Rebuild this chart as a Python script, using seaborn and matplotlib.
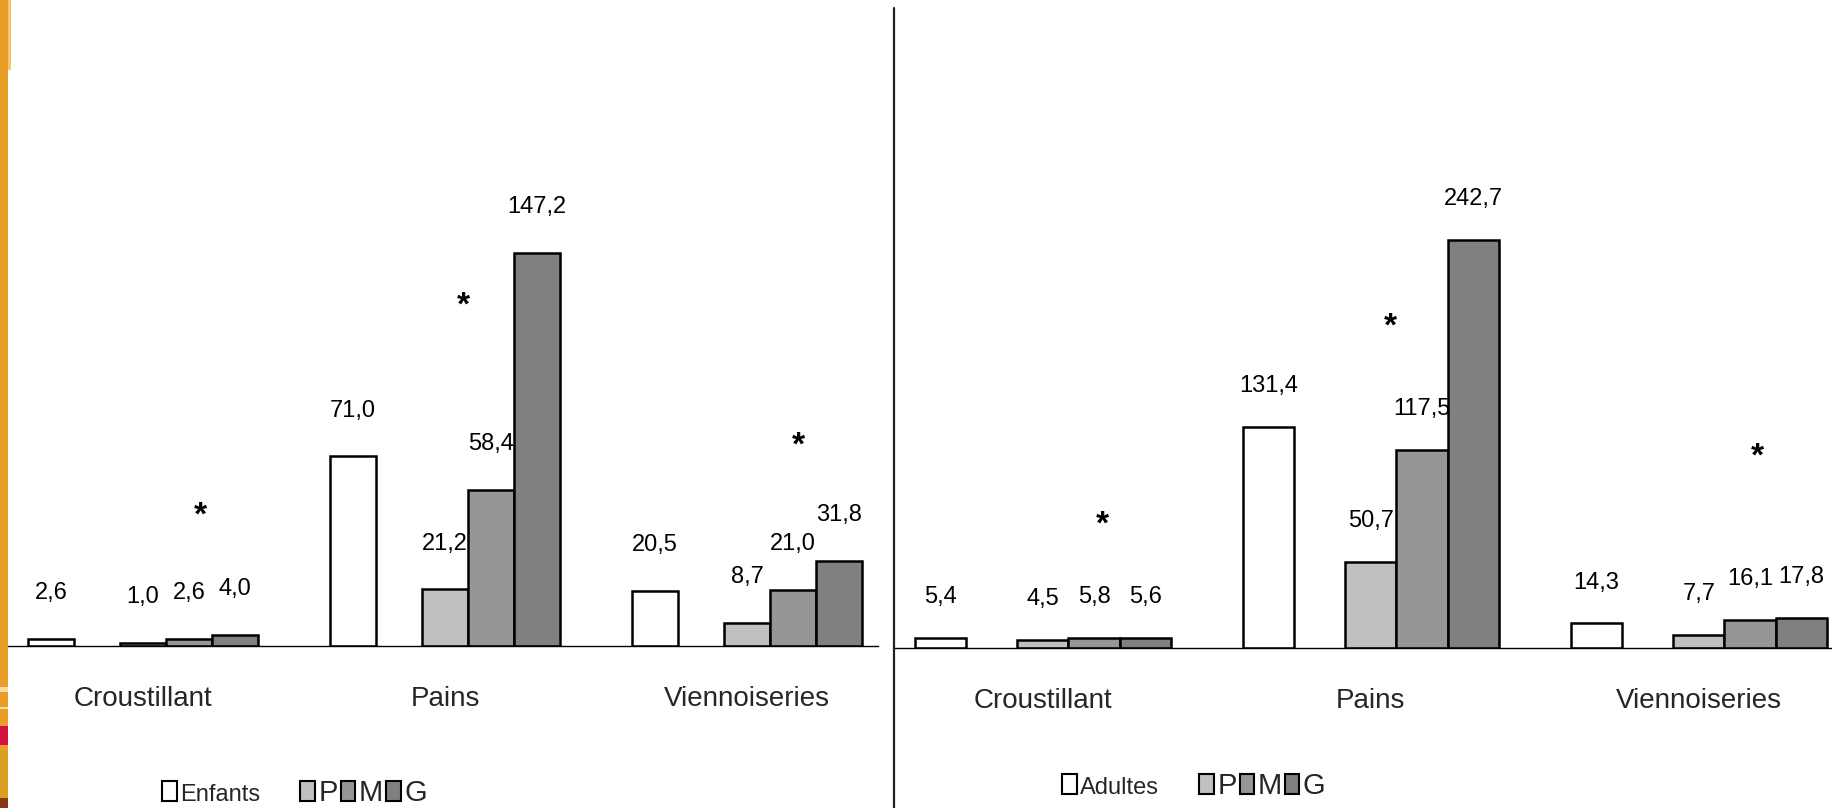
import matplotlib
matplotlib.use("Agg")
import matplotlib.pyplot as plt
from matplotlib.patches import Patch, Rectangle
from matplotlib.lines import Line2D
import seaborn as sns
import pandas as pd

# --- données -------------------------------------------------------------
categories = ["Croustillant", "Pains", "Viennoiseries"]
sizes = ["P", "M", "G"]

enfants = [2.6, 71.0, 20.5]
enfants_p = [1.0, 21.2, 8.7]
enfants_m = [2.6, 58.4, 21.0]
enfants_g = [4.0, 147.2, 31.8]

adultes = [5.4, 131.4, 14.3]
adultes_p = [4.5, 50.7, 7.7]
adultes_m = [5.8, 117.5, 16.1]
adultes_g = [5.6, 242.7, 17.8]

# --- mise en page ---------------------------------------------------------
W, H = 1833, 808
sns.set_style("white")
plt.rcParams["font.family"] = ["Liberation Sans", "DejaVu Sans"]

colors = {"P": "#C0C0C0", "M": "#969696", "G": "#808080"}
SPACER = "_espace"

fig = plt.figure(figsize=(W / 100, H / 100), dpi=100)
fig.patch.set_facecolor("white")


def px_box(x0, top, x1, bottom):
    """Axes rectangle from pixel edges (origin at top-left)."""
    return [x0 / W, 1 - bottom / H, (x1 - x0) / W, (bottom - top) / H]


def fmt(v):
    return f"{v:.1f}".replace(".", ",")


def draw_panel(ax, name, base, small, medium, large, xlim, ytop, width,
               label_offset, stars, legend_at):
    hue_order = [name, SPACER] + sizes
    series = {name: base, SPACER: [0.0] * len(categories),
              "P": small, "M": medium, "G": large}
    df = pd.DataFrame(
        [(c, g, v) for g in hue_order for c, v in zip(categories, series[g])],
        columns=["categorie", "groupe", "valeur"],
    )
    palette = {name: "white", SPACER: "white", **colors}
    sns.barplot(data=df, x="categorie", y="valeur", hue="groupe",
                order=categories, hue_order=hue_order, palette=palette,
                edgecolor="black", linewidth=1.8, width=width, gap=0,
                errorbar=None, legend=False, saturation=1, ax=ax)

    for container, g in zip(ax.containers, hue_order):
        if g == SPACER:
            for bar in container:
                bar.set_visible(False)
            continue
        for bar, v in zip(container, series[g]):
            ax.annotate(fmt(v), xy=(bar.get_x() + bar.get_width() / 2, bar.get_height()),
                        xytext=(0, label_offset), textcoords="offset points",
                        ha="center", va="center", fontsize=17, color="black")

    for i, (dx, y) in enumerate(stars):
        ax.annotate("*", xy=(i + dx, y), xytext=(0, -9), textcoords="offset points",
                    ha="center", va="baseline", fontsize=24, fontweight="bold",
                    color="black")

    ax.set_xlim(*xlim)
    ax.set_ylim(0, ytop)
    ax.set_xlabel("")
    ax.set_ylabel("")
    ax.set_yticks([])
    sns.despine(ax=ax, left=True)
    ax.spines["bottom"].set_color("black")
    ax.spines["bottom"].set_linewidth(1.0)
    ax.set_xticks(range(len(categories)))
    ax.set_xticklabels(categories, fontsize=20)
    ax.tick_params(axis="x", which="major", length=0, pad=29)
    ax.set_xticks([0.5, 1.5], minor=True)
    ax.tick_params(axis="x", which="minor", length=7.5, width=1.0,
                   color="black", direction="out")

    handles = [Patch(facecolor="white", edgecolor="black", linewidth=1.5),
               Patch(facecolor="none", edgecolor="none")] + \
              [Patch(facecolor=colors[s], edgecolor="black", linewidth=1.5) for s in sizes]
    labels = [name, "  "] + sizes
    leg = ax.legend(handles, labels, loc="center left",
                    bbox_to_anchor=(legend_at[0] / W, 1 - legend_at[1] / H),
                    bbox_transform=fig.transFigure, ncol=5, frameon=False,
                    fontsize=21, handlelength=0.5, handleheight=0.66,
                    handletextpad=0.12, columnspacing=0.1, borderpad=0,
                    borderaxespad=0)
    leg.get_texts()[0].set_fontsize(17)


ax_left = fig.add_axes(px_box(8, 18, 878, 646))
ax_right = fig.add_axes(px_box(894, 18, 1833, 647.5))

draw_panel(ax_left, "Enfants", enfants, enfants_p, enfants_m, enfants_g,
           xlim=(-0.447, 2.434), ytop=235.2, width=0.762, label_offset=33,
           stars=[(0.19, 50.2), (0.06, 128.8), (0.17, 76.4)],
           legend_at=(162, 793))
draw_panel(ax_right, "Adultes", adultes, adultes_p, adultes_m, adultes_g,
           xlim=(-0.454, 2.409), ytop=374.9, width=0.78, label_offset=29.5,
           stars=[(0.18, 75.3), (0.06, 193.3), (0.18, 115.5)],
           legend_at=(1062, 786))

# séparateur vertical entre les deux panneaux
fig.add_artist(Line2D([894 / W, 894 / W], [0, 1 - 8 / H], transform=fig.transFigure,
                      color="#222222", linewidth=1.6))

# bandeau décoratif à gauche
def band(x0, top, x1, bottom, color):
    fig.add_artist(Rectangle((x0 / W, 1 - bottom / H), (x1 - x0) / W, (bottom - top) / H,
                             transform=fig.transFigure, facecolor=color,
                             edgecolor="none", zorder=5))

band(0, 0, 8, H, "#E89E28")
band(8, 0, 11, 70, "#F6C566")
band(0, 687, 8, 692, "#F4DDA6")
band(0, 707, 8, 709, "#F4DDA6")
band(0, 726, 8, 745, "#D4123E")
band(0, 750, 8, 798, "#D89F24")
band(0, 798, 8, 808, "#8A3414")

fig.savefig("out.png", dpi=100, facecolor="white")
